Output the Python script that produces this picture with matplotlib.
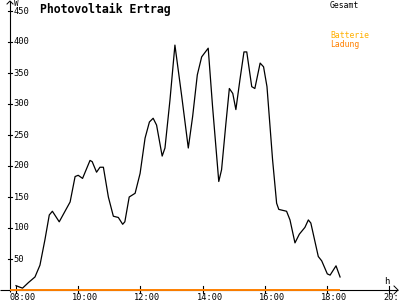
import matplotlib
matplotlib.use("Agg")
import matplotlib.pyplot as plt

hours = [8.00, 8.10, 8.21, 8.40, 8.61, 8.77, 8.93, 9.07, 9.17, 9.39, 9.74, 9.90, 10.00,
         10.14, 10.38, 10.45, 10.59, 10.70, 10.81, 10.97, 11.13, 11.29, 11.43, 11.50,
         11.64, 11.83, 11.99, 12.15, 12.29, 12.41, 12.52, 12.70, 12.79, 12.95, 13.11,
         13.33, 13.54, 13.68, 13.83, 13.97, 14.18, 14.32, 14.52, 14.61, 14.75, 14.86,
         14.97, 15.07, 15.20, 15.33, 15.42, 15.58, 15.68, 15.85, 15.96, 16.07, 16.25,
         16.38, 16.45, 16.70, 16.81, 16.97, 17.11, 17.29, 17.40, 17.48, 17.72, 17.83,
         18.01, 18.10, 18.29, 18.42]
watts = [7, 5, 3, 12, 21, 40, 81, 121, 127, 110, 142, 183, 185,
         180, 209, 207, 190, 198, 198, 150, 119, 117, 106, 110,
         150, 156, 188, 245, 271, 277, 266, 216, 229, 306, 395,
         312, 229, 280, 347, 376, 390, 296, 175, 194, 269, 325,
         317, 291, 339, 384, 384, 328, 325, 366, 360, 328, 210,
         140, 130, 127, 113, 76, 90, 101, 113, 108, 54, 47,
         26, 24, 39, 21]
ladung_hours = [7.81, 18.42]
ladung_watts = [0, 0]
ytick_vals = [50, 100, 150, 200, 250, 300, 350, 400, 450]
xtick_vals = [8, 10, 12, 14, 16, 18, 20]
xtick_labels = ["08:00", "10:00", "12:00", "14:00", "16:00", "18:00", "20:"]

# pixel mapping: x = 16 + (h-8)*31.1 ; y = 290 - v*31/50
PX_H = 31.1
PY_V = 31.0 / 50.0
def hx(px):
    return 8 + (px - 16) / PX_H
def vy(py):
    return (290 - py) / PY_V

fig = plt.figure(figsize=(4, 3), dpi=100)
ax = fig.add_axes([0, 0, 1, 1])
ax.set_xlim(hx(0), hx(400))
ax.set_ylim(vy(300), vy(0))
ax.axis("off")

mono = "DejaVu Sans Mono"
yaxis_h = hx(10)

# axes lines
ax.plot([hx(0), hx(398)], [0, 0], color="black", lw=0.8, solid_capstyle="butt")
ax.plot([yaxis_h, yaxis_h], [vy(292), vy(1)], color="black", lw=0.8, solid_capstyle="butt")
# arrows
ax.plot([hx(394), hx(398), hx(394)], [vy(286), vy(290), vy(294)], color="black", lw=0.7)
ax.plot([hx(7), hx(10), hx(13)], [vy(4), vy(1), vy(4)], color="black", lw=0.7)

# y ticks
for v in ytick_vals:
    ax.plot([hx(8), hx(12)], [v, v], color="black", lw=0.8)
    ax.text(hx(13.5), v, str(v), fontsize=6.3, family=mono, ha="left", va="center")

# x ticks
for h, lab in zip(xtick_vals, xtick_labels):
    ax.plot([h, h], [vy(286), vy(293)], color="black", lw=0.8)
    ax.text(h - 6 / PX_H, vy(292.5), lab, fontsize=6.2, family=mono, ha="left", va="top")

# data
ax.plot(hours, watts, color="black", lw=0.9)
ax.plot(ladung_hours, ladung_watts, color="#FF8000", lw=1.4, solid_capstyle="butt")

# texts
ax.text(hx(40), vy(9), "Photovoltaik Ertrag", fontsize=8.3, family=mono,
        fontweight="bold", ha="left", va="center")
ax.text(hx(14), vy(3.5), "W", fontsize=5.5, family=mono, ha="left", va="center")
ax.text(hx(384), vy(281), "h", fontsize=6.5, family=mono, ha="left", va="center")
ax.text(hx(330), vy(5), "Gesamt", fontsize=5.9, family=mono, ha="left", va="center", color="black")
ax.text(hx(330), vy(36), "Batterie", fontsize=5.9, family=mono, ha="left", va="center", color="#FFB000")
ax.text(hx(330), vy(44), "Ladung", fontsize=5.9, family=mono, ha="left", va="center", color="#FF8000")

fig.savefig("out.png", dpi=100)
